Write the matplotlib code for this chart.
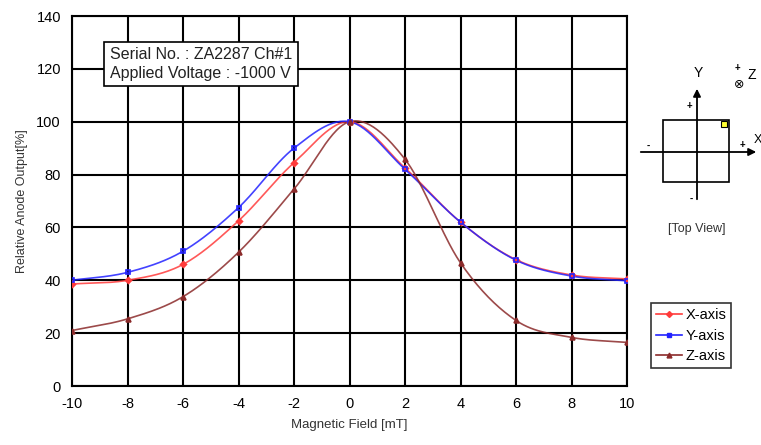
import numpy as np
import matplotlib
matplotlib.use("Agg")
import matplotlib.pyplot as plt
from matplotlib.patches import Rectangle
from matplotlib.lines import Line2D

plt.rcParams['font.family'] = ['Liberation Sans', 'DejaVu Sans']
plt.rcParams['axes.unicode_minus'] = False

field = [-10, -8, -6, -4, -2, 0, 2, 4, 6, 8, 10]
x_axis = [38.6, 40.0, 46.0, 62.5, 84.5, 100.0, 82.5, 62.0, 47.8, 42.0, 40.5]
y_axis = [40.0, 43.0, 51.0, 67.5, 90.0, 100.0, 82.0, 62.0, 47.6, 41.6, 39.8]
z_axis = [21.0, 25.4, 33.8, 50.6, 74.5, 100.0, 85.8, 46.6, 24.8, 18.4, 16.5]

x_ticks = list(range(-10, 11, 2))
y_ticks = list(range(0, 141, 20))


def smooth(xs, ys, n=30):
    """Catmull-Rom style smoothing for drawing the connecting curve."""
    xs = np.asarray(xs, float)
    ys = np.asarray(ys, float)
    px = np.concatenate([[2 * xs[0] - xs[1]], xs, [2 * xs[-1] - xs[-2]]])
    py = np.concatenate([[2 * ys[0] - ys[1]], ys, [2 * ys[-1] - ys[-2]]])
    out_x, out_y = [], []
    t = np.linspace(0, 1, n, endpoint=False)
    for i in range(1, len(px) - 2):
        p0, p1, p2, p3 = (np.array([px[j], py[j]]) for j in range(i - 1, i + 3))
        c1 = p1 + (p2 - p0) / 6
        c2 = p2 - (p3 - p1) / 6
        tt = t[:, None]
        pts = ((1 - tt) ** 3) * p1 + 3 * ((1 - tt) ** 2) * tt * c1 + 3 * (1 - tt) * tt ** 2 * c2 + tt ** 3 * p2
        out_x.extend(pts[:, 0])
        out_y.extend(pts[:, 1])
    out_x.append(xs[-1])
    out_y.append(ys[-1])
    return np.array(out_x), np.array(out_y)


W, H = 761, 445
fig = plt.figure(figsize=(W / 100, H / 100), dpi=100)
ax = fig.add_axes([72 / W, 1 - 386 / H, (627 - 72) / W, (386 - 16) / H])

series = [
    ("X-axis", x_axis, "#ff3b3b", "D", 3),
    ("Y-axis", y_axis, "#2222ff", "s", 3.5),
    ("Z-axis", z_axis, "#8b2a2a", "^", 3.5),
]
handles = []
for name, vals, col, mk, ms in series:
    sx, sy = smooth(field, vals)
    ax.plot(sx, sy, color=col, lw=1.2, alpha=0.85, zorder=3)
    ax.plot(field, vals, ls="none", marker=mk, ms=ms, color=col,
            mfc=col if mk != "s" else "none", mew=1.2, zorder=4)
    handles.append(Line2D([], [], color=col, lw=1.2, marker=mk, ms=ms,
                          mfc=col, label=name))

ax.set_xlim(-10, 10)
ax.set_ylim(0, 140)
ax.set_xticks(x_ticks)
ax.set_yticks(y_ticks)
ax.grid(True, color="black", lw=1.5, zorder=1)
for s in ax.spines.values():
    s.set_linewidth(1.5)
ax.tick_params(length=0, labelsize=10.5, pad=8)
ax.set_xlabel("Magnetic Field [mT]", fontsize=9.5, labelpad=6, color="#333333")
ax.set_ylabel("Relative Anode Output[%]", fontsize=9, labelpad=6, color="#333333")

# info box
ax.text(0.068, 0.87,
        "Serial No. : ZA2287 Ch#1\nApplied Voltage : -1000 V",
        transform=ax.transAxes, fontsize=11.5, va="center", ha="left",
        linespacing=1.3, zorder=6, color="#222222",
        bbox=dict(boxstyle="square,pad=0.35", fc="white", ec="black", lw=1.2))

leg = fig.legend(handles=handles, loc="upper left",
                 bbox_to_anchor=(651 / W, 1 - 303 / H), frameon=True,
                 fancybox=False, edgecolor="black", fontsize=10.5,
                 handlelength=1.8, handletextpad=0.2, borderpad=0.35,
                 labelspacing=0.45, borderaxespad=0)
leg.get_frame().set_linewidth(1.2)

# top view diagram (pixel coordinates)
d = fig.add_axes([0, 0, 1, 1], zorder=5)
d.set_xlim(0, W)
d.set_ylim(H, 0)
d.axis("off")
d.add_patch(Rectangle((663, 120), 66, 62, fill=False, ec="black", lw=1.2))
d.add_patch(Rectangle((721, 121), 6, 6, fc="#ffff33", ec="black", lw=0.8))
d.annotate("", xy=(759, 152), xytext=(638, 152),
           arrowprops=dict(arrowstyle="-|>", color="black", lw=1.3, mutation_scale=11))
d.annotate("", xy=(697, 86), xytext=(697, 202),
           arrowprops=dict(arrowstyle="-|>", color="black", lw=1.3, mutation_scale=11))
d.text(698, 73, "Y", fontsize=10, ha="center", va="center")
d.text(754, 140, "X", fontsize=9, ha="left", va="center")
d.text(752, 75, "Z", fontsize=10, ha="center", va="center")
d.text(739, 84, "⊗", fontsize=9, ha="center", va="center", family="DejaVu Sans")
d.text(737, 68, "+", fontsize=7, ha="center", va="center", fontweight="bold")
d.text(689, 106, "+", fontsize=7, ha="center", va="center", fontweight="bold")
d.text(742, 145, "+", fontsize=7, ha="center", va="center", fontweight="bold")
d.text(648, 146, "-", fontsize=7, ha="center", va="center", fontweight="bold")
d.text(691, 199, "-", fontsize=7, ha="center", va="center", fontweight="bold")
d.text(697, 229, "[Top View]", fontsize=9, ha="center", va="center", color="#333333")

fig.savefig("out.png", dpi=100)
